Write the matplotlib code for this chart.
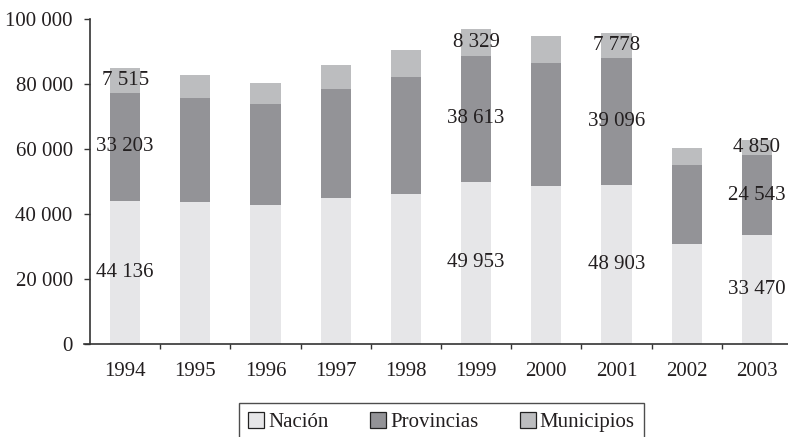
import matplotlib
matplotlib.use("Agg")
import matplotlib.pyplot as plt
from matplotlib.ticker import FixedLocator, FuncFormatter
from matplotlib.patches import Patch
from matplotlib.font_manager import FontProperties
import numpy as np

years = ["1994", "1995", "1996", "1997", "1998", "1999", "2000", "2001", "2002", "2003"]
nacion = [44136, 43700, 42800, 45000, 46300, 49953, 48600, 48903, 30800, 33470]
provincias = [33203, 32000, 31100, 33500, 35900, 38613, 37900, 39096, 24300, 24543]
municipios = [7515, 7200, 6400, 7300, 8300, 8329, 8300, 7778, 5200, 4850]
labeled_years = ["1994", "1999", "2001", "2003"]
series_names = ["Nación", "Provincias", "Municipios"]
colors = ["#e6e6e8", "#939397", "#bcbdbf"]

fam = ["Liberation Serif", "DejaVu Serif"]
fs = 15
plt.rcParams["font.family"] = fam
plt.rcParams["font.size"] = fs
text_color = "#231f20"

fig = plt.figure(figsize=(7.88, 4.37), dpi=100)
ax = fig.add_axes([90 / 788, 93 / 437, 702 / 788, 325 / 437])

x = np.arange(len(years))
w = 0.43
n = np.array(nacion)
p = np.array(provincias)
m = np.array(municipios)
ax.bar(x, n, w, color=colors[0], linewidth=0)
ax.bar(x, p, w, bottom=n, color=colors[1], linewidth=0)
ax.bar(x, m, w, bottom=n + p, color=colors[2], linewidth=0)

def fmt(v):
    return f"{int(v):,}".replace(",", " ")

for i, yr in enumerate(years):
    if yr in labeled_years:
        ax.text(i, n[i] / 2, fmt(n[i]), ha="center", va="center", color=text_color)
        ax.text(i, n[i] + p[i] / 2, fmt(p[i]), ha="center", va="center", color=text_color)
        ax.text(i, n[i] + p[i] + m[i] / 2, fmt(m[i]), ha="center", va="center", color=text_color)

ax.set_xlim(-0.5, len(years) - 0.5)
ax.set_ylim(0, 100000)
ax.set_yticks(np.arange(0, 100001, 20000))
ax.yaxis.set_major_formatter(FuncFormatter(lambda v, pos: fmt(v)))
ax.tick_params(axis="y", direction="out", length=4.5, width=1, color="#333333",
               labelcolor=text_color, pad=8)

ax.xaxis.set_major_locator(FixedLocator(np.arange(0.5, len(years) - 0.5, 1)))
ax.xaxis.set_major_formatter(FuncFormatter(lambda v, pos: ""))
ax.xaxis.set_minor_locator(FixedLocator(x))
ax.set_xticks(x, minor=True)
ax.set_xticklabels(years, minor=True)
ax.tick_params(axis="x", which="major", direction="out", length=3.8, width=1, color="#333333")
ax.tick_params(axis="x", which="minor", length=0, pad=13, labelcolor=text_color)

for s in ["top", "right"]:
    ax.spines[s].set_visible(False)
for s in ["left", "bottom"]:
    ax.spines[s].set_color("#333333")
    ax.spines[s].set_linewidth(1.2)
ax.spines["bottom"].set_bounds(-0.59, len(years) - 0.5)

handles = [Patch(facecolor=c, edgecolor="#222222", linewidth=0.9) for c in colors]
leg = fig.legend(handles, series_names, loc="upper left",
                 bbox_to_anchor=(239 / 788, 34 / 437), bbox_transform=fig.transFigure,
                 ncol=3, frameon=True, fancybox=False, borderaxespad=0,
                 handlelength=0.75, handleheight=0.75, handletextpad=0.2,
                 columnspacing=2.0, borderpad=0.45,
                 prop=FontProperties(family=fam, size=fs))
leg.get_frame().set_edgecolor("#222222")
leg.get_frame().set_linewidth(1.0)
for t in leg.get_texts():
    t.set_color(text_color)

fig.savefig("out.png", dpi=100)
